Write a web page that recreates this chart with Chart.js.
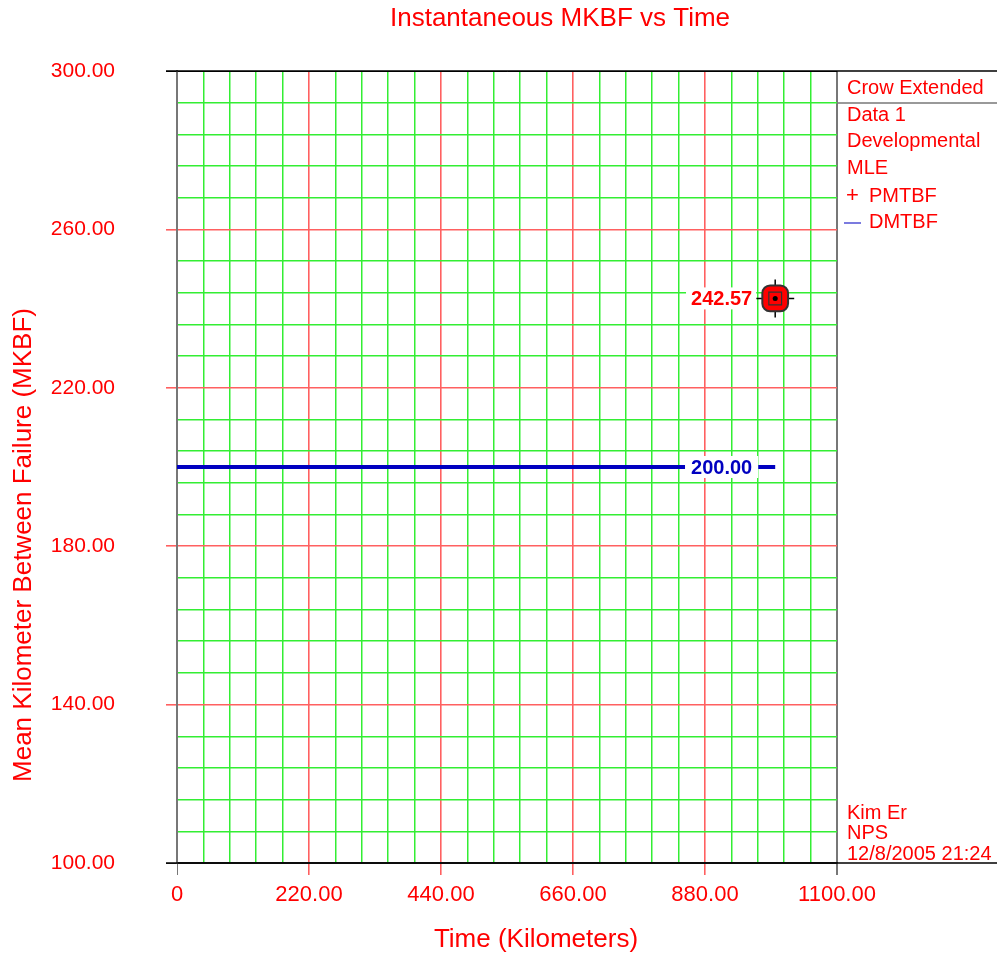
<!DOCTYPE html>
<html>
<head>
<meta charset="utf-8">
<title>Instantaneous MKBF vs Time</title>
<script src="https://cdn.jsdelivr.net/npm/chart.js@4/dist/chart.umd.min.js"></script>
<style>
    html, body { margin: 0; padding: 0; background: #ffffff; }
    #chart { display: block; }
</style>
</head>
<body>
<canvas id="chart" width="997" height="956"></canvas>
<script>
// Chart data
const dmtbfTime = [0, 997];
const dmtbfValues = [200, 200];
const pmtbfTime = [997];
const pmtbfValues = [242.57];

// Axis ranges and steps
const xRange = [0, 1100];
const xMinorStep = 44;
const xMajorStep = 220;
const yRange = [100, 300];
const yMinorStep = 8;
const yMajorStep = 40;

// Texts
const chartTitle = 'Instantaneous MKBF vs Time';
const xTitle = 'Time (Kilometers)';
const yTitle = 'Mean Kilometer Between Failure (MKBF)';
const legendHeader = 'Crow Extended';
const legendLines = ['Data 1', 'Developmental', 'MLE'];
const footerLines = ['Kim Er', 'NPS', '12/8/2005 21:24'];

const RED = '#ff0000';
const GRID_RED = '#ff6060';
const GRID_GREEN = '#33ee33';
const FONT = '"Liberation Sans", Arial, sans-serif';

function pointsOf(xs, ys) {
    return xs.map((x, i) => ({ x: x, y: ys[i] }));
}

function isMajor(value, start, step) {
    return Math.abs(((value - start) / step) - Math.round((value - start) / step)) < 1e-6;
}

// Grid colours: frame lines, major red lines, minor green lines
function yGridColor(ctx) {
    const v = ctx.tick ? ctx.tick.value : 0;
    if (v === yRange[1]) return '#000000';
    if (v === yRange[0]) return '#333333';
    return isMajor(v, yRange[0], yMajorStep) ? GRID_RED : GRID_GREEN;
}

function xGridColor(ctx) {
    const v = ctx.tick ? ctx.tick.value : 0;
    if (v === xRange[0] || v === xRange[1]) return '#777777';
    return isMajor(v, xRange[0], xMajorStep) ? GRID_RED : GRID_GREEN;
}

// Soft grid lines, a bit wider than one pixel like the original
function yGridWidth(ctx) {
    const v = ctx.tick ? ctx.tick.value : 0;
    if (v === yRange[0] || v === yRange[1]) return 1;
    return isMajor(v, yRange[0], yMajorStep) ? 1.6 : 1.5;
}

function xGridWidth(ctx) {
    const v = ctx.tick ? ctx.tick.value : 0;
    if (v === xRange[1]) return 2;
    if (v === xRange[0]) return 1;
    return isMajor(v, xRange[0], xMajorStep) ? 1.6 : 1.5;
}

// Extra drawing: titles, side panel, value labels
const decorations = {
    id: 'decorations',
    afterDatasetsDraw(chart) {
        const ctx = chart.ctx;
        const xs = chart.scales.x;
        const ys = chart.scales.y;

        ctx.save();
        ctx.font = 'bold 20px ' + FONT;
        ctx.textBaseline = 'middle';

        // PMTBF value label
        const px = xs.getPixelForValue(pmtbfTime[0]);
        const py = ys.getPixelForValue(pmtbfValues[0]);
        const pLabel = pmtbfValues[0].toFixed(2);
        const pw = ctx.measureText(pLabel).width;
        ctx.fillStyle = '#ffffff';
        ctx.fillRect(px - 23 - pw - 5, py - 11, pw + 9, 22);
        ctx.fillStyle = RED;
        ctx.textAlign = 'right';
        ctx.fillText(pLabel, px - 23, py + 1);

        // DMTBF value label
        const lx = xs.getPixelForValue(dmtbfTime[dmtbfTime.length - 1]);
        const ly = ys.getPixelForValue(dmtbfValues[dmtbfValues.length - 1]);
        const dLabel = dmtbfValues[0].toFixed(2);
        const dw = ctx.measureText(dLabel).width;
        ctx.fillStyle = '#ffffff';
        ctx.fillRect(lx - 23 - dw - 6, ly - 11, dw + 12, 22);
        ctx.fillStyle = '#0000c0';
        ctx.fillText(dLabel, lx - 23, ly + 1);
        ctx.restore();
    },
    afterDraw(chart) {
        const ctx = chart.ctx;
        const area = chart.chartArea;
        const W = chart.width;

        ctx.save();
        // Frame lines running across the side panel
        ctx.strokeStyle = '#000000';
        ctx.lineWidth = 1.5;
        ctx.beginPath();
        ctx.moveTo(area.left - 11, area.top);
        ctx.lineTo(W, area.top);
        ctx.moveTo(area.left - 11, area.bottom);
        ctx.lineTo(W, area.bottom);
        ctx.stroke();

        ctx.strokeStyle = '#777777';
        ctx.lineWidth = 1.5;
        ctx.beginPath();
        ctx.moveTo(area.right, area.top + 32);
        ctx.lineTo(W, area.top + 32);
        ctx.stroke();

        // Chart title
        ctx.fillStyle = RED;
        ctx.font = '26px ' + FONT;
        ctx.textAlign = 'center';
        ctx.textBaseline = 'middle';
        ctx.fillText(chartTitle, 560, 19);

        // Axis titles
        ctx.fillText(xTitle, 536, 940);
        ctx.save();
        ctx.translate(24, 545);
        ctx.rotate(-Math.PI / 2);
        ctx.fillText(yTitle, 0, 0);
        ctx.restore();

        // Side panel texts
        const tx = area.right + 10;
        ctx.font = '20px ' + FONT;
        ctx.textAlign = 'left';
        ctx.fillText(legendHeader, tx, 88);
        legendLines.forEach((line, i) => {
            ctx.fillText(line, tx, 115 + i * 26.8);
        });
        ctx.font = '22px ' + FONT;
        ctx.fillText('+', tx - 1, 196);
        ctx.font = '20px ' + FONT;
        ctx.fillText('PMTBF', tx + 22, 196);
        ctx.strokeStyle = '#7b7bdf';
        ctx.lineWidth = 2;
        ctx.beginPath();
        ctx.moveTo(tx - 3, 223);
        ctx.lineTo(tx + 14, 223);
        ctx.stroke();
        ctx.fillText('DMTBF', tx + 22, 222);

        footerLines.forEach((line, i) => {
            ctx.fillText(line, tx, 813 + i * 20.5);
        });
        ctx.restore();
    }
};

// Build chart
function initializeChart() {
    const ctx = document.getElementById('chart').getContext('2d');
    const marker = pointsOf(pmtbfTime, pmtbfValues);

    return new Chart(ctx, {
        type: 'scatter',
        data: {
            datasets: [
                {
                    label: 'DMTBF',
                    data: pointsOf(dmtbfTime, dmtbfValues),
                    showLine: true,
                    borderColor: '#0000c0',
                    borderWidth: 4,
                    pointRadius: 0,
                    order: 5
                },
                {
                    label: 'PMTBF cross',
                    data: marker,
                    pointStyle: 'cross',
                    pointRadius: 19,
                    borderColor: '#000000',
                    borderWidth: 1.5,
                    order: 4
                },
                {
                    label: 'PMTBF',
                    data: marker,
                    pointStyle: 'rectRounded',
                    pointRadius: 15,
                    backgroundColor: RED,
                    borderColor: '#333333',
                    borderWidth: 2,
                    order: 3
                },
                {
                    label: 'PMTBF inner',
                    data: marker,
                    pointStyle: 'rect',
                    pointRadius: 9,
                    backgroundColor: 'rgba(0,0,0,0)',
                    borderColor: '#333333',
                    borderWidth: 1.2,
                    order: 2
                },
                {
                    label: 'PMTBF dot',
                    data: marker,
                    pointStyle: 'circle',
                    pointRadius: 2.5,
                    backgroundColor: '#000000',
                    borderColor: '#000000',
                    borderWidth: 0,
                    order: 1
                }
            ]
        },
        options: {
            responsive: false,
            animation: false,
            devicePixelRatio: 1,
            events: [],
            layout: {
                padding: { top: 71, right: 160, bottom: 0, left: 0 }
            },
            plugins: {
                legend: { display: false },
                tooltip: { enabled: false },
                title: { display: false }
            },
            scales: {
                x: {
                    type: 'linear',
                    min: xRange[0],
                    max: xRange[1],
                    afterFit: function(scale) { scale.height = 93; },
                    border: { display: true, color: '#333333', width: 1.5 },
                    grid: {
                        color: xGridColor,
                        lineWidth: xGridWidth,
                        drawTicks: true,
                        tickLength: 12,
                        tickWidth: xGridWidth,
                        tickColor: ctx => (ctx.tick && isMajor(ctx.tick.value, xRange[0], xMajorStep)) ? xGridColor(ctx) : 'rgba(0,0,0,0)'
                    },
                    ticks: {
                        stepSize: xMinorStep,
                        autoSkip: false,
                        maxRotation: 0,
                        padding: 7,
                        color: RED,
                        font: { family: FONT, size: 22 },
                        callback: function(value) {
                            if (value === 0) return '0';
                            return isMajor(value, xRange[0], xMajorStep) ? value.toFixed(2) : '';
                        }
                    }
                },
                y: {
                    type: 'linear',
                    min: yRange[0],
                    max: yRange[1],
                    afterFit: function(scale) { scale.width = 177; },
                    border: { display: true, color: '#777777', width: 2 },
                    grid: {
                        color: yGridColor,
                        lineWidth: yGridWidth,
                        drawTicks: true,
                        tickLength: 11,
                        tickWidth: yGridWidth,
                        tickColor: ctx => (ctx.tick && isMajor(ctx.tick.value, yRange[0], yMajorStep)) ? yGridColor(ctx) : 'rgba(0,0,0,0)'
                    },
                    ticks: {
                        stepSize: yMinorStep,
                        autoSkip: false,
                        padding: 51,
                        color: RED,
                        font: { family: FONT, size: 21 },
                        callback: function(value) {
                            return isMajor(value, yRange[0], yMajorStep) ? value.toFixed(2) : '';
                        }
                    }
                }
            }
        },
        plugins: [decorations]
    });
}

document.addEventListener('DOMContentLoaded', function() {
    initializeChart();
});
</script>
</body>
</html>
